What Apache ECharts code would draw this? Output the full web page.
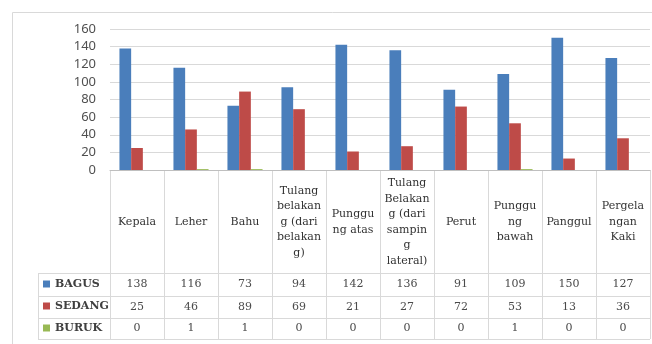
<!DOCTYPE html>
<html>
<head>
<meta charset="utf-8">
<script src="https://cdn.jsdelivr.net/npm/echarts@6/dist/echarts.min.js"></script>
<style>
  html, body { margin: 0; padding: 0; background: #fff; }
  #chart { width: 652px; height: 344px; }
</style>
</head>
<body>
<div id="chart"></div>
<script>
(function() {
  'use strict';

  // kategori (label sudah dipotong seperti di tabel Excel)
  var categories = [
    'Kepala', 'Leher', 'Bahu',
    'Tulang\nbelakan\ng (dari\nbelakan\ng)',
    'Punggu\nng atas',
    'Tulang\nBelakan\ng (dari\nsampin\ng\nlateral)',
    'Perut', 'Punggu\nng\nbawah', 'Panggul', 'Pergela\nngan\nKaki'
  ];
  var bagus = [138, 116, 73, 94, 142, 136, 91, 109, 150, 127];
  var sedang = [25, 46, 89, 69, 21, 27, 72, 53, 13, 36];
  var buruk = [0, 1, 1, 0, 0, 0, 0, 1, 0, 0];
  var seriesNames = ['BAGUS', 'SEDANG', 'BURUK'];
  var colors = ['#4a7ebb', '#be4b48', '#98b954'];

  var tableFont = 'DejaVu Serif';
  var lineColor = '#d9d9d9';

  // baris tabel data di bawah grafik
  function rowAxis(values, margin) {
    return {
      type: 'category',
      position: 'bottom',
      data: categories,
      axisLine: { show: false },
      axisTick: { show: false },
      axisLabel: {
        interval: 0,
        margin: margin,
        verticalAlign: 'middle',
        fontFamily: tableFont,
        fontSize: 11,
        color: '#4a4a4a',
        formatter: function(v, i) { return String(values[i]); }
      }
    };
  }

  var myChart = echarts.init(document.getElementById('chart'));

  var option = {
    color: colors,
    animation: false,
    grid: { left: 110, right: 2, top: 29, bottom: 174 },
    legend: {
      orient: 'vertical',
      left: 43,
      top: 277,
      padding: 0,
      itemWidth: 7,
      itemHeight: 7,
      itemGap: 8,
      icon: 'rect',
      data: seriesNames,
      textStyle: {
        fontFamily: tableFont,
        fontSize: 11,
        fontWeight: 'bold',
        color: '#404040',
        lineHeight: 14
      }
    },
    xAxis: [{
      type: 'category',
      position: 'bottom',
      data: categories,
      axisLine: { lineStyle: { color: '#bfbfbf' } },
      axisTick: { show: false },
      axisLabel: {
        interval: 0,
        margin: 52,
        verticalAlign: 'middle',
        fontFamily: tableFont,
        fontSize: 11,
        lineHeight: 15.5,
        color: '#333333'
      }
    },
      rowAxis(bagus, 114.5),
      rowAxis(sedang, 137),
      rowAxis(buruk, 158.5)
    ],
    yAxis: {
      type: 'value',
      min: 0,
      max: 160,
      interval: 20,
      axisLine: { show: false },
      axisTick: { show: false },
      splitLine: { lineStyle: { color: lineColor } },
      axisLabel: {
        margin: 14,
        fontFamily: 'Noto Sans',
        fontSize: 13,
        color: '#505050'
      }
    },
    series: [{
      name: seriesNames[0], type: 'bar', data: bagus,
      barGap: '0%', barCategoryGap: '35%'
    }, {
      name: seriesNames[1], type: 'bar', data: sedang,
      barGap: '0%', barCategoryGap: '35%'
    }, {
      name: seriesNames[2], type: 'bar', data: buruk,
      barGap: '0%', barCategoryGap: '35%'
    }]
  };

  myChart.setOption(option);

  // garis tabel: dihitung dari posisi sumbu kategori
  var x0 = myChart.convertToPixel({ xAxisIndex: 0 }, 0);
  var x1 = myChart.convertToPixel({ xAxisIndex: 0 }, 1);
  var band = x1 - x0;
  var axisY = myChart.convertToPixel({ yAxisIndex: 0 }, 0);
  var tableBottom = 339;
  var rowLines = [273, 296, 318, 339];
  var tableLeft = 38;
  var right = x0 - band / 2 + band * categories.length;

  var graphics = [{
    type: 'rect', silent: true,
    shape: { x: 12.5, y: 12.5, width: 700, height: 400 },
    style: { fill: 'none', stroke: lineColor, lineWidth: 1 }
  }];
  for (var i = 0; i <= categories.length; i++) {
    var gx = Math.round(x0 - band / 2 + band * i) + 0.5;
    graphics.push({
      type: 'line', silent: true,
      shape: { x1: gx, y1: axisY, x2: gx, y2: tableBottom },
      style: { stroke: lineColor, lineWidth: 1 }
    });
  }
  rowLines.forEach(function(y) {
    graphics.push({
      type: 'line', silent: true,
      shape: { x1: tableLeft, y1: y + 0.5, x2: right, y2: y + 0.5 },
      style: { stroke: lineColor, lineWidth: 1 }
    });
  });
  graphics.push({
    type: 'line', silent: true,
    shape: { x1: tableLeft + 0.5, y1: rowLines[0], x2: tableLeft + 0.5, y2: tableBottom },
    style: { stroke: lineColor, lineWidth: 1 }
  });
  myChart.setOption({ graphic: graphics });
}());
</script>
</body>
</html>
